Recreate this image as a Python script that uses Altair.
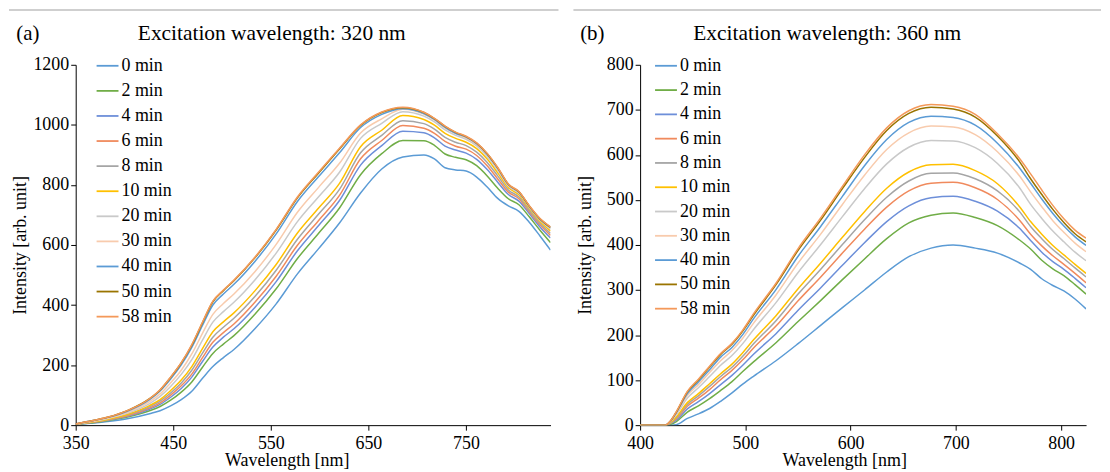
import altair as alt
import pandas as pd

FONT = "Liberation Serif, Times New Roman, serif"

TIMES = ["0 min", "2 min", "4 min", "6 min", "8 min", "10 min",
         "20 min", "30 min", "40 min", "50 min", "58 min"]
COLORS = ["#5B9BD5", "#70AD47", "#6D8FD9", "#F08A5D", "#A5A5A5", "#FFC000",
          "#C9C9C9", "#F8CBAD", "#5B9BD5", "#9A7400", "#F4995A"]

# ---------------- panel (a): excitation 320 nm ----------------
WL_A = [350.0, 360.8, 382.4, 404.1, 425.7, 436.5, 447.3, 458.2, 469.0, 479.8, 490.6,
        501.4, 512.2, 533.9, 555.5, 577.1, 598.8, 620.4, 642.0, 663.7, 685.3, 706.9,
        717.7, 728.6, 739.4, 750.2, 761.0, 771.8, 782.6, 793.5, 804.3, 815.1, 825.9, 836.7]
A_00 = [2, 5, 12, 22, 38, 48, 64, 85, 113, 155, 195, 225, 252, 322, 404, 503, 587, 673, 773, 853, 893, 900, 887, 857, 850, 846, 826, 793, 755, 730, 712, 675, 630, 583]
A_02 = [2, 6, 15, 28, 48, 62, 83, 110, 144, 192, 239, 270, 298, 370, 454, 554, 638, 723, 834, 904, 948, 947, 932, 903, 892, 884, 864, 830, 789, 754, 734, 693, 649, 608]
A_04 = [3, 7, 16, 30, 53, 69, 93, 122, 160, 211, 260, 293, 321, 393, 478, 580, 664, 748, 866, 931, 979, 974, 957, 929, 916, 906, 885, 851, 809, 768, 746, 704, 660, 623]
A_06 = [3, 7, 17, 32, 57, 74, 100, 131, 170, 224, 276, 308, 337, 410, 496, 598, 681, 765, 887, 948, 998, 989, 972, 945, 929, 919, 898, 864, 820, 776, 754, 710, 667, 632]
A_08 = [3, 8, 18, 35, 61, 80, 107, 140, 183, 239, 293, 326, 356, 429, 516, 618, 702, 785, 907, 965, 1014, 1004, 986, 958, 942, 931, 909, 875, 830, 783, 760, 715, 672, 639]
A_10 = [3, 8, 19, 37, 65, 85, 115, 150, 195, 254, 311, 344, 374, 448, 535, 639, 722, 805, 927, 982, 1031, 1018, 999, 972, 955, 942, 921, 886, 840, 791, 767, 721, 678, 647]
A_20 = [3, 9, 22, 41, 72, 96, 129, 169, 218, 282, 343, 378, 409, 484, 573, 677, 760, 842, 955, 1005, 1044, 1029, 1010, 983, 965, 952, 930, 895, 849, 796, 772, 725, 683, 653]
A_30 = [4, 10, 23, 44, 78, 104, 141, 183, 237, 305, 369, 405, 437, 512, 602, 708, 791, 872, 973, 1020, 1052, 1036, 1017, 990, 971, 957, 935, 901, 854, 800, 775, 728, 686, 657]
A_40 = [4, 11, 25, 48, 85, 114, 154, 201, 259, 331, 400, 437, 469, 546, 637, 744, 827, 907, 991, 1035, 1054, 1038, 1018, 992, 972, 959, 937, 902, 855, 801, 776, 728, 686, 658]
A_50 = [4, 11, 26, 50, 88, 117, 159, 207, 266, 340, 411, 448, 481, 558, 650, 756, 839, 920, 998, 1041, 1057, 1041, 1021, 995, 975, 961, 939, 904, 857, 802, 777, 729, 687, 659]
A_58 = [4, 11, 26, 50, 88, 118, 160, 208, 268, 342, 413, 450, 483, 560, 652, 759, 842, 922, 1000, 1043, 1059, 1042, 1022, 996, 976, 962, 940, 905, 858, 803, 778, 730, 688, 660]

# ---------------- panel (b): excitation 360 nm ----------------
WL_B = [400.0, 413.4, 423.9, 429.1, 434.4, 444.9, 455.4, 466.0, 476.5, 487.0, 497.5,
        508.0, 529.1, 550.1, 571.2, 592.2, 613.2, 634.3, 655.3, 676.4, 697.4, 718.4,
        739.5, 760.5, 771.0, 781.6, 792.1, 802.6, 813.2, 823.7]
B_00 = [0, 0, 0, 0, 1, 15, 25, 37, 53, 71, 91, 109, 143, 181, 221, 261, 300, 340, 374, 393, 400, 393, 382, 360, 346, 325, 310, 298, 280, 258]
B_02 = [0, 0, 0, 2, 8, 29, 43, 59, 77, 96, 119, 141, 183, 230, 276, 323, 369, 414, 449, 466, 471, 461, 443, 411, 391, 366, 347, 332, 312, 291]
B_04 = [0, 0, 0, 4, 11, 36, 52, 70, 90, 110, 133, 158, 203, 255, 304, 355, 405, 452, 487, 505, 508, 497, 475, 437, 410, 384, 363, 346, 326, 305]
B_06 = [0, 0, 0, 5, 14, 42, 60, 79, 101, 121, 145, 172, 220, 276, 328, 382, 435, 484, 520, 537, 539, 527, 501, 455, 424, 398, 376, 357, 337, 316]
B_08 = [0, 0, 0, 5, 16, 46, 65, 86, 108, 128, 153, 181, 232, 291, 345, 401, 456, 506, 542, 559, 560, 547, 520, 474, 441, 414, 390, 370, 349, 329]
B_10 = [0, 0, 0, 6, 18, 50, 70, 92, 114, 135, 161, 190, 243, 303, 359, 417, 474, 526, 562, 578, 579, 565, 536, 485, 452, 424, 399, 378, 357, 337]
B_20 = [0, 0, 0, 8, 23, 60, 83, 108, 133, 154, 181, 213, 272, 339, 400, 463, 525, 580, 617, 632, 631, 616, 581, 527, 490, 459, 431, 407, 384, 365]
B_30 = [0, 0, 0, 9, 26, 66, 90, 117, 143, 165, 193, 227, 289, 360, 423, 490, 555, 612, 649, 664, 662, 645, 607, 553, 518, 485, 454, 428, 404, 385]
B_40 = [0, 0, 0, 9, 28, 70, 96, 123, 151, 172, 201, 237, 301, 375, 440, 508, 576, 634, 672, 686, 683, 666, 626, 571, 537, 502, 470, 442, 418, 399]
B_50 = [0, 0, 0, 10, 29, 74, 100, 129, 157, 179, 209, 245, 312, 388, 454, 525, 594, 654, 692, 706, 702, 684, 642, 585, 547, 512, 479, 450, 425, 407]
B_58 = [0, 0, 0, 10, 30, 75, 102, 131, 159, 181, 211, 248, 315, 392, 459, 530, 600, 660, 698, 712, 708, 690, 647, 592, 558, 522, 488, 458, 433, 415]

SERIES_A = [A_00, A_02, A_04, A_06, A_08, A_10, A_20, A_30, A_40, A_50, A_58]
SERIES_B = [B_00, B_02, B_04, B_06, B_08, B_10, B_20, B_30, B_40, B_50, B_58]


def long_table(wl, series):
    rows = []
    for i, (t, vals) in enumerate(zip(TIMES, series)):
        for w, v in zip(wl, vals):
            rows.append({"wl": w, "v": v, "t": t, "k": i})
    return pd.DataFrame(rows)


def panel(df, width, height, xdom, xticks, ydom, yticks, tag, title,
          title_x, xtitle_x, rule_left, rule_right, leg_x, row_pad):
    lines = alt.Chart(df).mark_line(strokeWidth=1.5, interpolate="monotone", clip=True).encode(
        x=alt.X("wl:Q",
                scale=alt.Scale(domain=xdom, nice=False, zero=False),
                axis=alt.Axis(values=xticks, title="Wavelength [nm]", labelFlush=False,
                              labelOverlap=False, titlePadding=0, labelPadding=4,
                              titleX=xtitle_x, titleAlign="center", format="d")),
        y=alt.Y("v:Q",
                scale=alt.Scale(domain=ydom, nice=False, zero=True),
                axis=alt.Axis(values=yticks, title="Intensity [arb. unit]", format="d",
                              labelOverlap=False, titleX=-55, titleY=height / 2,
                              titleAlign="center", titleBaseline="middle")),
        color=alt.Color("t:N",
                        scale=alt.Scale(domain=TIMES, range=COLORS),
                        legend=alt.Legend(title=None, orient="none", legendX=leg_x, legendY=-11,
                                          symbolType="stroke", symbolSize=484,
                                          symbolStrokeWidth=1.8, labelFont=FONT,
                                          labelFontSize=18, labelColor="#000000",
                                          labelOffset=2, rowPadding=row_pad,
                                          labelLimit=200)),
        order=alt.Order("k:Q"),
    )

    one = pd.DataFrame({"tag": [tag], "title": [title]})
    tag_text = alt.Chart(one).mark_text(font=FONT, fontSize=21, color="#000000",
                                       align="center", baseline="middle").encode(
        x=alt.value(-48), y=alt.value(-31), text="tag:N")
    title_text = alt.Chart(one).mark_text(font=FONT, fontSize=21.5, color="#000000",
                                         align="center", baseline="middle").encode(
        x=alt.value(title_x), y=alt.value(-31), text="title:N")
    top_rule = alt.Chart(one).mark_rule(color="#BFBFBF", strokeWidth=1.5).encode(
        x=alt.value(rule_left), x2=alt.value(rule_right), y=alt.value(-55))

    return alt.layer(lines, tag_text, title_text, top_rule).properties(
        width=width, height=height)


df_a = long_table(WL_A, SERIES_A)
df_b = long_table(WL_B, SERIES_B)

chart_a = panel(df_a, 477, 362, [350, 836.7], [350, 450, 550, 650, 750],
                [0, 1200], list(range(0, 1201, 200)), "(a)",
                "Excitation wavelength: 320 nm", 197, 212, -67, 485, 20, 4.2)
chart_b = panel(df_b, 448, 362, [400, 823.7], [400, 500, 600, 700, 800],
                [0, 800], list(range(0, 801, 100)), "(b)",
                "Excitation wavelength: 360 nm", 188, 205, -67, 463, 14, 3.4)

chart = alt.hconcat(chart_a, chart_b, spacing=90, bounds="flush").resolve_scale(
    color="independent"
).resolve_legend(
    color="independent"
).properties(
    padding=0
).configure_view(
    stroke=None
).configure_axis(
    grid=False,
    domainColor="#000000",
    domainWidth=1,
    tickColor="#000000",
    tickSize=5,
    labelColor="#000000",
    titleColor="#000000",
    labelFont=FONT,
    titleFont=FONT,
    labelFontSize=18,
    titleFontSize=18,
    titleFontWeight="normal",
    labelPadding=2,
)

chart.save("out.html", embed_options={"renderer": "svg", "actions": False})
